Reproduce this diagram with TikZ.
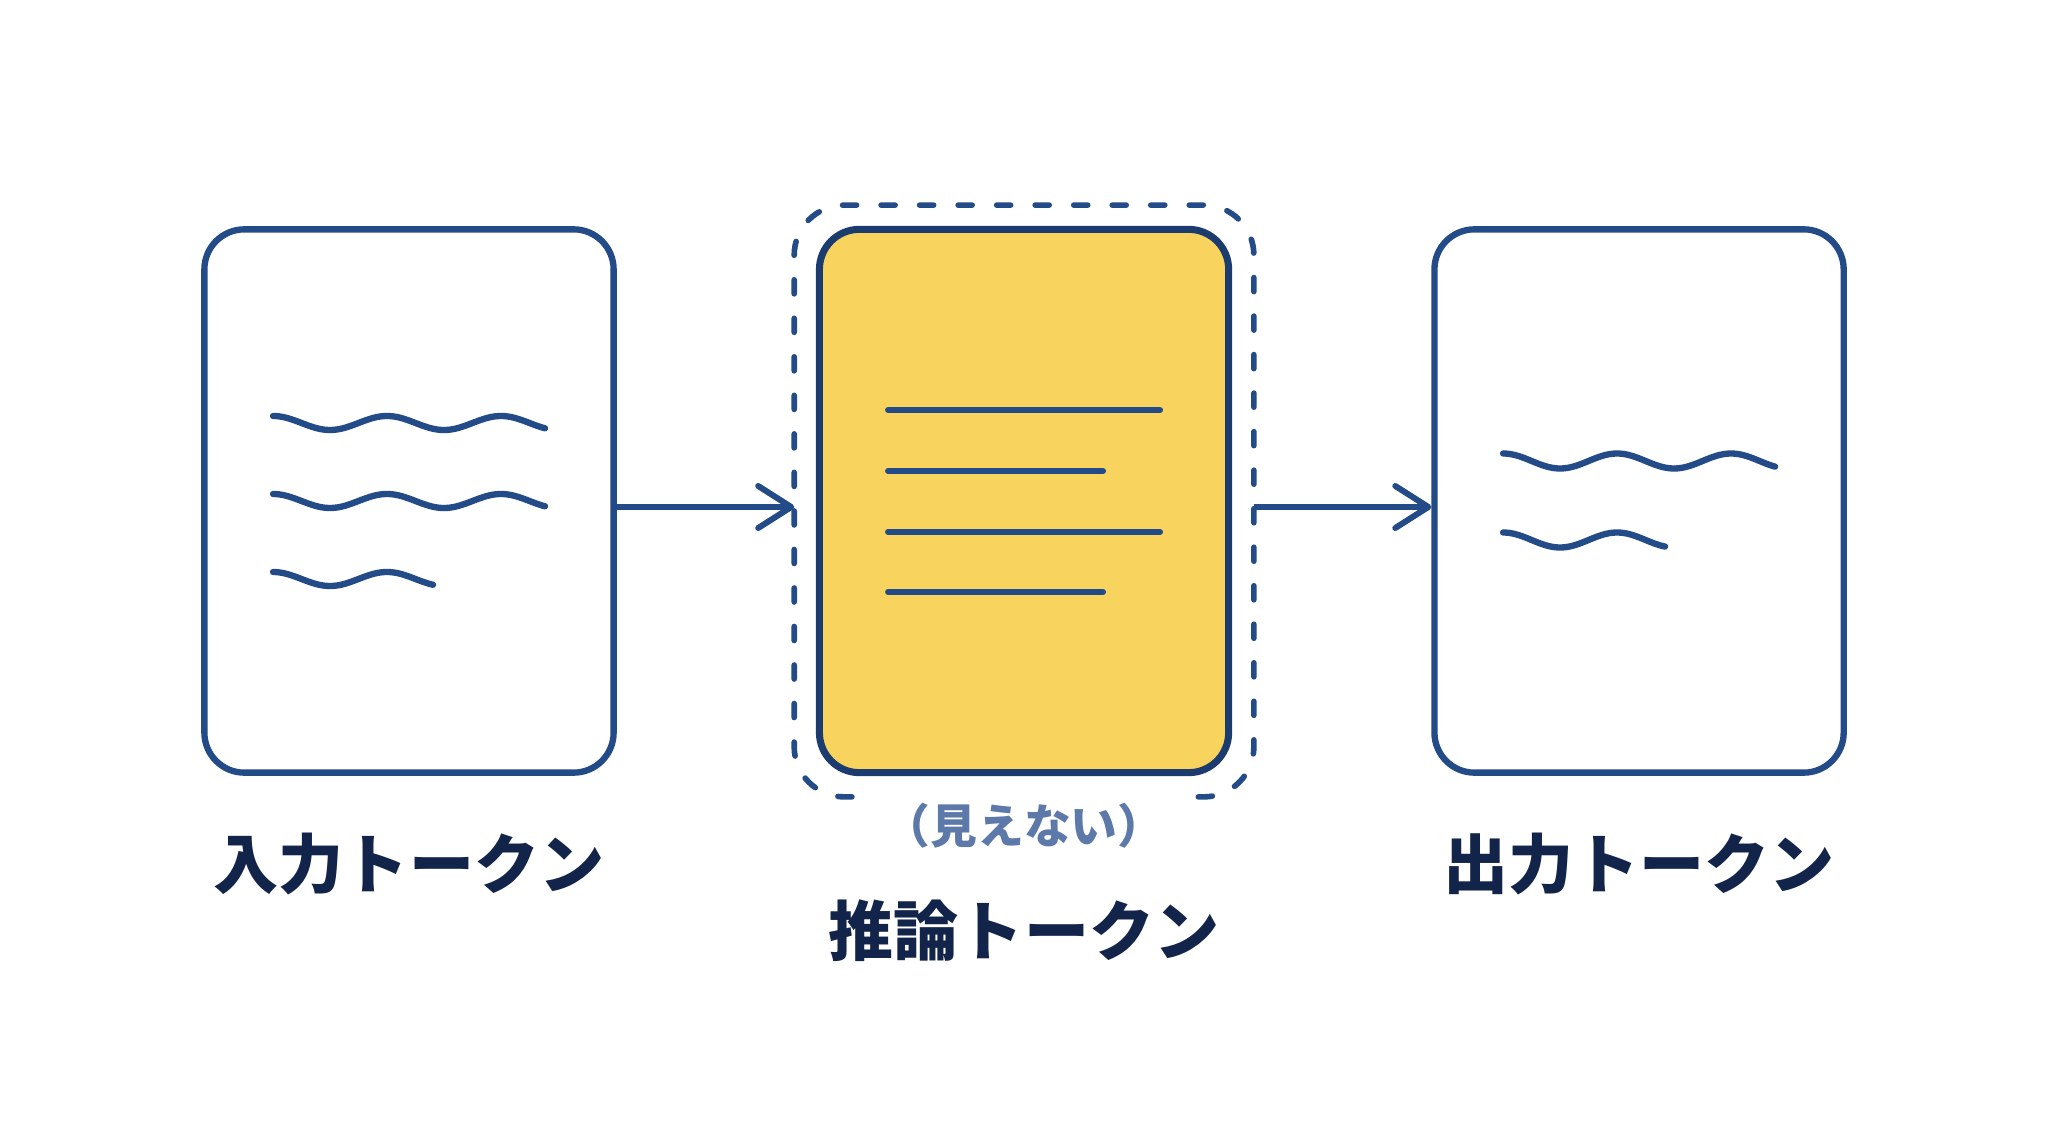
\documentclass[tikz,border=0pt]{standalone}
\usepackage{fontspec}
\setmainfont{Noto Sans CJK JP}
\usetikzlibrary{arrows.meta,positioning}
\definecolor{navy}{HTML}{234B87}
\definecolor{deepnavy}{HTML}{1C3B6E}
\definecolor{ink}{HTML}{13244A}
\definecolor{veilblue}{HTML}{5C79AA}
\definecolor{gold}{HTML}{F8D45E}

\begin{document}
\begin{tikzpicture}[
  x=0.01cm, y=-0.01cm,
  node distance=1.99cm,
  card/.style={draw=navy, line width=1.8pt, rounded corners=0.4cm, minimum width=4.09cm, minimum height=5.43cm, fill=white},
  hot/.style={card, draw=deepnavy, line width=2pt, fill=gold},
  frame/.style={draw=navy, line width=1.6pt, line cap=round, dash pattern=on 0.14cm off 0.245cm, rounded corners=0.5cm},
  wave/.style={draw=navy, line width=1.8pt, line cap=round},
  rule/.style={draw=navy, line width=1.7pt, line cap=round},
  flow/.style={draw=navy, line width=1.7pt, -{Straight Barb[length=0.33cm, width=0.42cm, round]}},
  lbl/.style={font=\fontsize{18.5}{20}\selectfont\bfseries, text=ink, inner sep=0pt},
  note/.style={font=\fontsize{13.3}{15}\selectfont\bfseries, text=veilblue, inner sep=0pt}
]
  \fill[white] (0,0) rectangle (2048,1143);
  \useasboundingbox (0,0) rectangle (2048,1143);

  \node[card] (inbox) at (409,501) {};
  \node[hot, right=of inbox] (mid) {};
  \node[card, right=of mid] (outbox) {};

  % dashed veil round the reasoning box, open at the bottom
  \node[minimum width=4.58cm, minimum height=5.9cm, inner sep=0pt] (veil) at (mid.center) {};
  \draw[frame] ([xshift=-1.72cm]veil.south) -| (veil.west) |- (veil.north) -| (veil.east) |- ([xshift=1.73cm]veil.south);

  % input text
  \draw[wave, shift={(inbox.center)}] plot[domain=0:272, samples=90, smooth] ({\x-136}, {-78-7*cos(\x/57*180)});
  \draw[wave, shift={(inbox.center)}] plot[domain=0:272, samples=90, smooth] ({\x-136}, {0-7*cos(\x/57*180)});
  \draw[wave, shift={(inbox.center)}] plot[domain=0:160, samples=60, smooth] ({\x-136}, {78-7*cos(\x/57*180)});

  % reasoning lines
  \draw[rule] ([shift={(-136,-91)}]mid.center) -- ++(272,0);
  \draw[rule] ([shift={(-136,-30)}]mid.center) -- ++(215,0);
  \draw[rule] ([shift={(-136,31)}]mid.center) -- ++(272,0);
  \draw[rule] ([shift={(-136,91)}]mid.center) -- ++(215,0);

  % output text
  \draw[wave, shift={(outbox.center)}] plot[domain=0:272, samples=90, smooth] ({\x-136}, {-40-7.5*cos(\x/57*180)});
  \draw[wave, shift={(outbox.center)}] plot[domain=0:162, samples=60, smooth] ({\x-136}, {39-7.5*cos(\x/57*180)});

  \draw[flow] ([yshift=-0.06cm]inbox.east) -- ([yshift=-0.06cm]veil.west);
  \draw[flow] ([yshift=-0.06cm]veil.east) -- ([yshift=-0.06cm]outbox.west);

  \node[lbl, below=0.56cm of inbox] (inlbl) {入力トークン};
  \node[note, below=0.26cm of mid] (hidden) {（見えない）};
  \node[lbl, below=0.5cm of hidden] (midlbl) {推論トークン};
  \node[lbl, below=0.56cm of outbox] (outlbl) {出力トークン};
\end{tikzpicture}
\end{document}
